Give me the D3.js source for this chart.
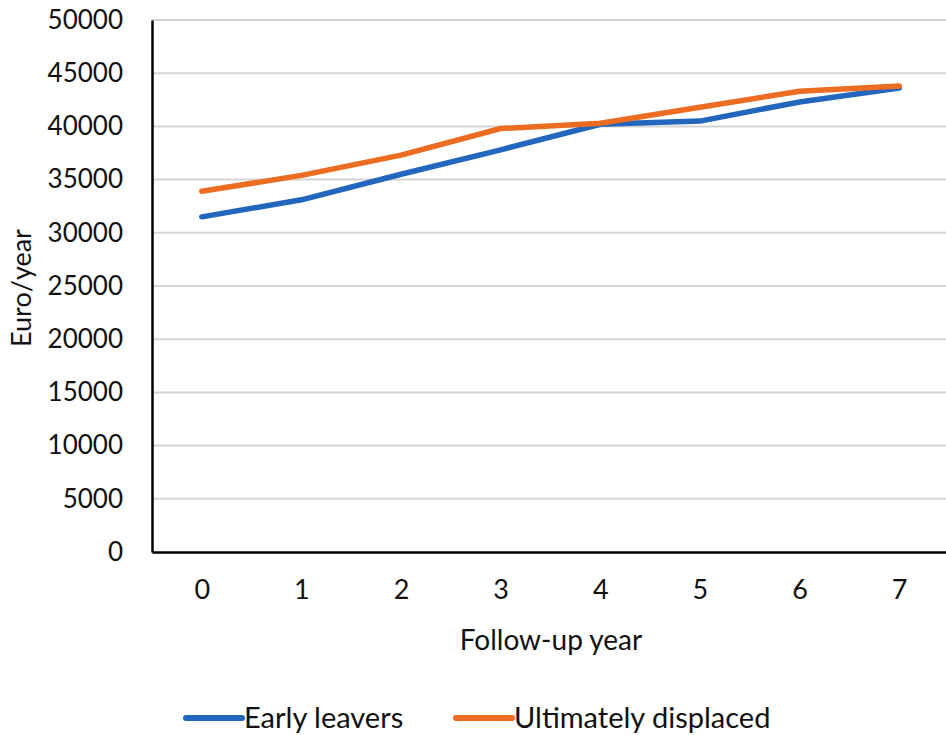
<!DOCTYPE html>
<html>
<head>
<meta charset="utf-8">
<script src="https://cdn.jsdelivr.net/npm/d3@7"></script>
<style>
  body { margin: 0; background: #fff; }
  text { font-family: Lato, "Open Sans", sans-serif; fill: #111; }
</style>
</head>
<body>
<div id="chart"></div>
<script>
// data
var years = ["0", "1", "2", "3", "4", "5", "6", "7"];
var earlyLeavers = [31500, 33100, 35500, 37800, 40200, 40500, 42300, 43600];
var ultimatelyDisplaced = [33900, 35400, 37300, 39800, 40300, 41800, 43300, 43800];
var yTicks = [0, 5000, 10000, 15000, 20000, 25000, 30000, 35000, 40000, 45000, 50000];

var series = [
  {name: "Early leavers", values: earlyLeavers, color: "#2366bd"},
  {name: "Ultimately displaced", values: ultimatelyDisplaced, color: "#ec6d22"}
];

var W = 946, H = 735;
var margin = {top: 20, right: -3, bottom: 183, left: 152},
    width = W - margin.left - margin.right,
    height = H - margin.top - margin.bottom;

var svg = d3.select("#chart").append("svg")
    .attr("width", W)
    .attr("height", H);

var g = svg.append("g")
    .attr("transform", "translate(" + margin.left + "," + margin.top + ")");

var x = d3.scalePoint()
    .domain(years)
    .range([0, width])
    .padding(0.5);

var y = d3.scaleLinear()
    .domain([0, 50000])
    .range([height, 0]);

// gridlines
g.selectAll(".grid")
    .data(yTicks.filter(function(d) { return d > 0; }))
  .enter().append("line")
    .attr("x1", 0)
    .attr("x2", width)
    .attr("y1", function(d) { return y(d); })
    .attr("y2", function(d) { return y(d); })
    .attr("stroke", "#d4d4d4")
    .attr("stroke-width", 2);

// y axis
var yAxis = g.append("g")
    .call(d3.axisLeft(y).tickValues(yTicks).tickSize(0).tickPadding(29).tickFormat(d3.format("d")));
yAxis.select(".domain").attr("stroke", "#000").attr("stroke-width", 2.5);
yAxis.selectAll("text").style("font-size", "26px").attr("fill", "#111");

// x axis
var xAxis = g.append("g")
    .attr("transform", "translate(0," + height + ")")
    .call(d3.axisBottom(x).tickSize(0).tickPadding(28));
xAxis.select(".domain").attr("stroke", "#000").attr("stroke-width", 2.5);
xAxis.selectAll("text").style("font-size", "27px").attr("fill", "#111");

// lines
var line = d3.line()
    .x(function(d, i) { return x(years[i]); })
    .y(function(d) { return y(d); });

g.selectAll(".series")
    .data(series)
  .enter().append("path")
    .attr("d", function(d) { return line(d.values); })
    .attr("fill", "none")
    .attr("stroke", function(d) { return d.color; })
    .attr("stroke-width", 5.5)
    .attr("stroke-linejoin", "round")
    .attr("stroke-linecap", "round");

// axis titles
svg.append("text")
    .attr("x", 551)
    .attr("y", 650)
    .attr("text-anchor", "middle")
    .style("font-size", "28px")
    .text("Follow-up year");

svg.append("text")
    .attr("transform", "translate(31,288) rotate(-90)")
    .attr("text-anchor", "middle")
    .style("font-size", "27px")
    .text("Euro/year");

// legend
var legendX = [186, 456];
var legend = svg.selectAll(".legend")
    .data(series)
  .enter().append("g")
    .attr("transform", function(d, i) { return "translate(" + legendX[i] + ",718)"; });

legend.append("line")
    .attr("x1", 0).attr("x2", 56)
    .attr("stroke", function(d) { return d.color; })
    .attr("stroke-width", 6)
    .attr("stroke-linecap", "round");

legend.append("text")
    .attr("x", 58)
    .attr("y", 10)
    .style("font-size", "29px")
    .text(function(d) { return d.name; });
</script>
</body>
</html>
